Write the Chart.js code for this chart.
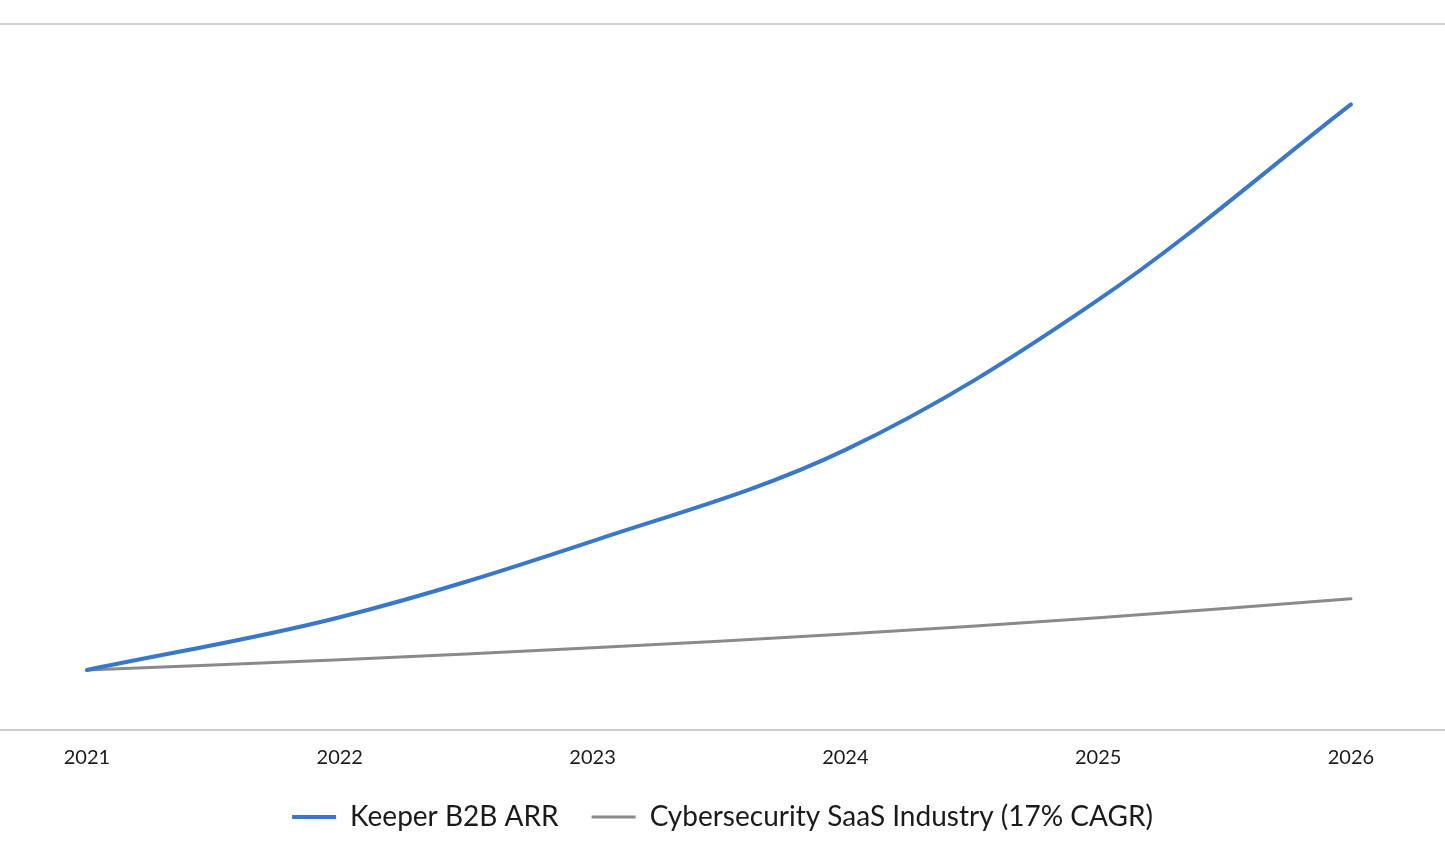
<!DOCTYPE html>
<html>
<head>
<meta charset="utf-8">
<script src="https://cdn.jsdelivr.net/npm/chart.js@4"></script>
<style>
  html, body { margin: 0; padding: 0; background: #fff; }
  .wrap { width: 1445px; height: 850px; }
</style>
</head>
<body>
<div class="wrap"><canvas id="growth"></canvas></div>
<script>
const years = [2021, 2022, 2023, 2024, 2025, 2026];
const keeperArr = [1, 1.88, 3.15, 4.67, 7.17, 10.43];
const industry = [1, 1.17, 1.37, 1.60, 1.87, 2.19];
const yTop = 11.77;

const toPoints = (vals) => vals.map((v, i) => ({ x: years[i], y: v }));

const ctx = document.getElementById('growth');

new Chart(ctx, {
  type: 'line',
  data: {
    datasets: [{
      label: 'Keeper B2B ARR',
      data: toPoints(keeperArr),
      borderColor: '#3878cc',
      backgroundColor: '#3878cc',
      borderWidth: 4,
      pointRadius: 0,
      tension: 0.35,
      borderCapStyle: 'round'
    }, {
      label: 'Cybersecurity SaaS Industry (17% CAGR)',
      data: toPoints(industry),
      borderColor: '#8a8a88',
      backgroundColor: '#8a8a88',
      borderWidth: 3,
      pointRadius: 0,
      tension: 0.35,
      borderCapStyle: 'round'
    }]
  },
  options: {
    responsive: true,
    maintainAspectRatio: false,
    animation: false,
    layout: { padding: { top: 24, bottom: 9, left: 0, right: 0 } },
    plugins: {
      tooltip: { enabled: false },
      legend: {
        position: 'bottom',
        labels: {
          usePointStyle: true,
          pointStyle: 'line',
          pointStyleWidth: 44,
          padding: 33,
          color: '#1a1a1a',
          font: { family: 'Lato', size: 28 }
        }
      }
    },
    scales: {
      x: {
        type: 'linear',
        min: 2020.656,
        max: 2026.372,
        grid: { display: false, drawTicks: false },
        border: { display: false },
        afterFit: (scale) => { scale.height = 40; },
        ticks: {
          stepSize: 1,
          includeBounds: false,
          autoSkip: false,
          padding: 16,
          color: '#1a1a1a',
          font: { family: 'Lato', size: 20 },
          callback: (v) => String(v)
        }
      },
      y: {
        min: 0,
        max: yTop,
        afterBuildTicks: (scale) => { scale.ticks = [{ value: 0 }, { value: yTop }]; },
        ticks: { display: false },
        border: { display: false },
        grid: { color: '#cfcfcf', lineWidth: 2, drawTicks: false }
      }
    }
  }
});
</script>
</body>
</html>
